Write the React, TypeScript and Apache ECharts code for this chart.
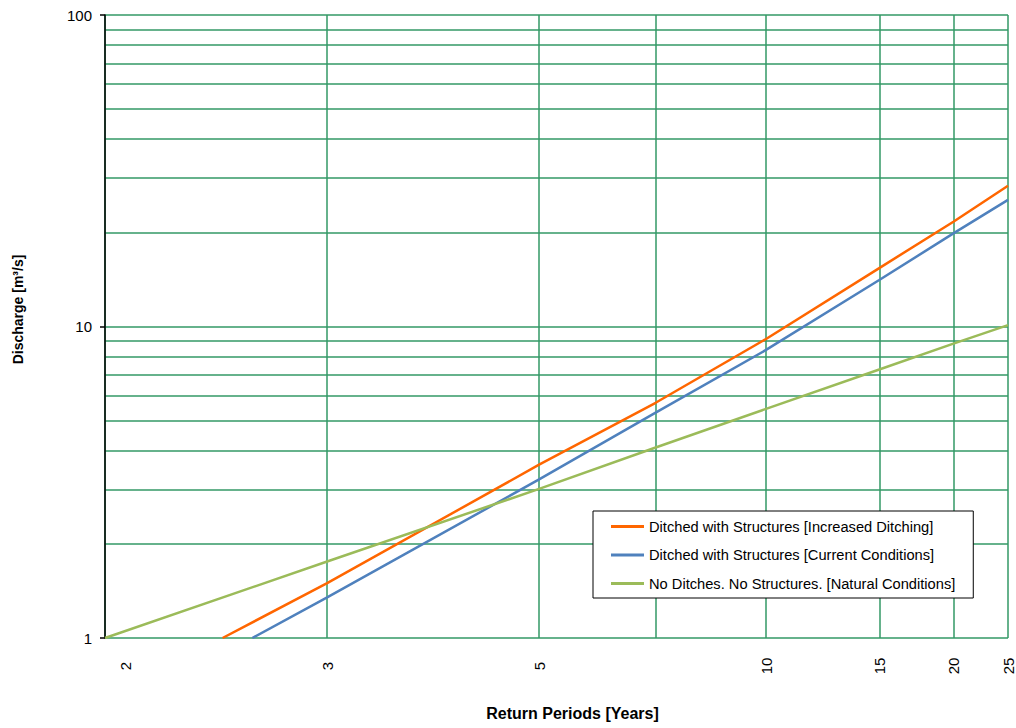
import React, { useEffect, useRef } from "react";
import * as echarts from "echarts";

// ---- data ----
const gridPeriods = [2, 3, 5, 7, 10, 15, 20, 25];
const labelPeriods = [2, 3, 5, 10, 15, 20, 25];

const increasedT = [2.44, 3, 5, 7, 10, 15, 20, 25];
const increasedQ = [1.0, 1.5, 3.6, 5.69, 9.12, 15.4, 21.7, 28.3];

const currentT = [2.58, 3, 5, 7, 10, 15, 20, 25];
const currentQ = [1.0, 1.35, 3.23, 5.29, 8.41, 14.1, 19.9, 25.5];

const naturalT = [2, 3, 5, 7, 10, 15, 20, 25];
const naturalQ = [1.0, 1.76, 3.01, 4.09, 5.44, 7.28, 8.81, 10.1];

const seriesNames = [
  "Ditched with Structures [Increased Ditching]",
  "Ditched with Structures [Current Conditions]",
  "No Ditches. No Structures. [Natural Conditions]",
];
const seriesColors = ["#FF6600", "#4F81BD", "#9BBB59"];

const FONT = "'Liberation Sans', Arial, sans-serif";
const GRID = "#339966";

// inverse standard normal CDF (Acklam)
function normInv(p: number): number {
  const a = [-3.969683028665376e1, 2.209460984245205e2, -2.759285104469687e2, 1.38357751867269e2, -3.066479806614716e1, 2.506628277459239];
  const b = [-5.447609879822406e1, 1.615858368580409e2, -1.556989798598866e2, 6.680131188771972e1, -1.328068155288572e1];
  const c = [-7.784894002430293e-3, -3.223964580411365e-1, -2.400758297328453, -2.549671035505022, 4.374664141464968, 2.938163982698783];
  const d = [7.784695709041462e-3, 3.224671290700398e-1, 2.445134137142996, 3.754408661907416];
  const pLow = 0.02425;
  const pHigh = 1 - pLow;
  if (p < pLow) {
    const q = Math.sqrt(-2 * Math.log(p));
    return (((((c[0] * q + c[1]) * q + c[2]) * q + c[3]) * q + c[4]) * q + c[5]) / ((((d[0] * q + d[1]) * q + d[2]) * q + d[3]) * q + 1);
  }
  if (p <= pHigh) {
    const q = p - 0.5;
    const r = q * q;
    return ((((((a[0] * r + a[1]) * r + a[2]) * r + a[3]) * r + a[4]) * r + a[5]) * q) / (((((b[0] * r + b[1]) * r + b[2]) * r + b[3]) * r + b[4]) * r + 1);
  }
  const q = Math.sqrt(-2 * Math.log(1 - p));
  return -(((((c[0] * q + c[1]) * q + c[2]) * q + c[3]) * q + c[4]) * q + c[5]) / ((((d[0] * q + d[1]) * q + d[2]) * q + d[3]) * q + 1);
}
// return period -> normal probability axis coordinate
const zOf = (T: number) => normInv(1 - 1 / T);

function periodLabel(v: number): string {
  let best = labelPeriods[0];
  let bd = Infinity;
  for (const t of labelPeriods) {
    const dd = Math.abs(zOf(t) - v);
    if (dd < bd) {
      bd = dd;
      best = t;
    }
  }
  return best === labelPeriods[0] ? `{first|${best}}` : String(best);
}

const toPairs = (ts: number[], qs: number[]) => ts.map((t, i) => [zOf(t), qs[i]]);

export default function App() {
  const ref = useRef<HTMLDivElement>(null);
  useEffect(() => {
    if (!ref.current) return;
    const chart = echarts.init(ref.current, null, { renderer: "svg" });
    const lineData = [toPairs(increasedT, increasedQ), toPairs(currentT, currentQ), toPairs(naturalT, naturalQ)];
    chart.setOption({
      animation: false,
      backgroundColor: "#fff",
      textStyle: { fontFamily: FONT },
      grid: { left: 105, right: 8, top: 15, bottom: 90, containLabel: false, outerBoundsMode: "none" },
      legend: {
        orient: "vertical",
        left: 593,
        top: 511,
        backgroundColor: "#fff",
        borderColor: "#000",
        borderWidth: 1,
        borderRadius: 0,
        padding: [8, 18, 7, 18],
        icon: "rect",
        itemWidth: 33,
        itemHeight: 3,
        itemGap: 13.5,
        itemStyle: { borderWidth: 0 },
        textStyle: { fontSize: 14.67, color: "#000", fontFamily: FONT },
        data: seriesNames,
      },
      xAxis: {
        type: "value",
        min: 0,
        max: zOf(25),
        axisLine: { show: false },
        axisTick: { show: false, customValues: gridPeriods.map(zOf) },
        splitLine: { show: true, lineStyle: { color: GRID, width: 1.5 } },
        axisLabel: {
          customValues: labelPeriods.map(zOf),
          formatter: (v: number) => periodLabel(v),
          rotate: 90,
          align: "center",
          verticalAlign: "middle",
          margin: 28,
          fontSize: 15,
          color: "#000",
          fontFamily: FONT,
          rich: { first: { fontSize: 15, color: "#000", fontFamily: FONT, padding: [40, 0, 0, 0] } },
        },
        name: "Return Periods [Years]",
        nameLocation: "middle",
        nameGap: 67,
        nameTextStyle: { fontSize: 16, fontWeight: "bold", color: "#000", fontFamily: FONT, padding: [0, 0, 0, 32] },
      },
      yAxis: {
        type: "log",
        logBase: 10,
        min: 1,
        max: 100,
        axisLine: { show: true, lineStyle: { color: "#000", width: 1.5 } },
        axisTick: { show: true, length: 5, lineStyle: { color: "#000", width: 1.5 } },
        splitLine: { show: true, lineStyle: { color: GRID, width: 1.5 } },
        minorTick: { show: false, splitNumber: 9 },
        minorSplitLine: { show: true, lineStyle: { color: GRID, width: 1.5 } },
        axisLabel: { fontSize: 15, color: "#000", margin: 13, fontFamily: FONT },
        name: "Discharge [m³/s]",
        nameLocation: "middle",
        nameGap: 80,
        nameTextStyle: { fontSize: 14, fontWeight: "bold", color: "#000", fontFamily: FONT, padding: [0, 0, 0, 34] },
      },
      series: seriesNames.map((name, i) => ({
        name,
        type: "line",
        data: lineData[i],
        symbol: "none",
        smooth: false,
        color: seriesColors[i],
        itemStyle: { color: seriesColors[i] },
        lineStyle: { color: seriesColors[i], width: 2.5 },
      })),
    });
    return () => chart.dispose();
  }, []);
  return <div ref={ref} style={{ position: "fixed", left: 0, top: 0, width: 1016, height: 728 }} />;
}
